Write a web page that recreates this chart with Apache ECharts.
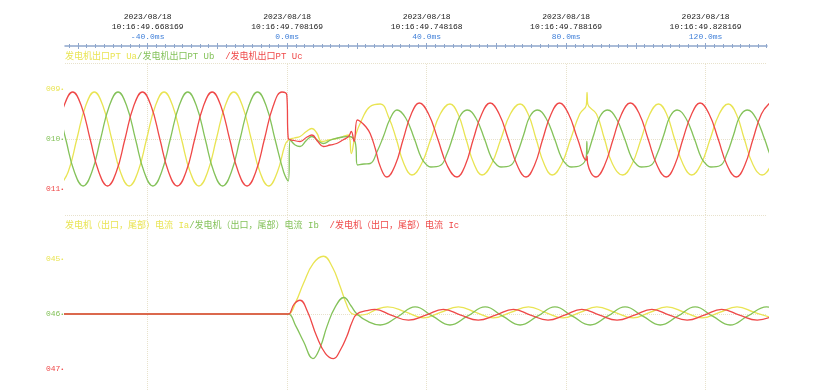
<!DOCTYPE html>
<html><head><meta charset="utf-8">
<script src="https://cdn.jsdelivr.net/npm/echarts@6/dist/echarts.min.js"></script>
<style>html,body{margin:0;padding:0;background:#fff}#c{width:837px;height:390px}</style>
</head><body><div id="c"></div>
<script>
// ---- time axis (ms) ----
const tickLabels = [-40, 0, 40, 80, 120];
const dateStr = '2023/08/18';
const stamps = ['10:16:49.668169', '10:16:49.708169', '10:16:49.748168', '10:16:49.788169', '10:16:49.828169'];
const X_MIN = -63.7, X_MAX = 137.6;

// ---- channel labels ----
const chanTop = ['009', '010', '011'];
const chanBot = ['045', '046', '047'];
const chanVals = [1, 0, -1];

// ---- legends ----
const legendTop = ['发电机出口PT Ua', '/发电机出口PT Ub', '  /发电机出口PT Uc'];
const legendBot = ['发电机（出口，尾部）电流 Ia', '/发电机（出口，尾部）电流 Ib', '  /发电机（出口，尾部）电流 Ic'];

// ---- voltages [ms, value] ----
const ua = [[-65.3,-0.94],[-62.8,-0.66],[-60.3,0],[-57.8,0.66],[-55.3,0.94],[-52.8,0.66],[-50.3,0],[-47.8,-0.66],[-45.3,-0.94],[-42.8,-0.66],[-40.3,0],[-37.8,0.66],[-35.3,0.94],[-32.8,0.66],[-30.3,0],[-27.8,-0.66],[-25.3,-0.94],[-22.8,-0.66],[-20.3,0],[-17.8,0.66],[-15.3,0.94],[-12.8,0.66],[-10.3,0],[-7.8,-0.66],[-5.3,-0.94],[-2.8,-0.66],[-0.6,-0.12],[0.4,-0.02],[2,0.02],[3.7,0.05],[5.5,0.15],[7.1,0.21],[8.5,0.12],[9.9,-0.05],[12,-0.02],[14.2,0.01],[16,0.05],[17.6,0.08],[18.4,-0.29],[19.5,0.05],[21.5,0.4],[23.8,0.65],[26.7,0.7],[29.2,0.42],[31.3,0],[33.4,-0.48],[35.8,-0.72],[38.5,-0.5],[41.2,0],[43.9,0.5],[46.7,0.7],[49,0.5],[51.3,0],[53.6,-0.5],[55.9,-0.72],[58.6,-0.5],[61.3,0],[64,0.5],[66.8,0.7],[69.1,0.5],[71.4,0],[73.7,-0.5],[76,-0.72],[78.7,-0.5],[81.3,0],[83.9,0.5],[85.8,0.68],[86.0,0.93],[86.2,0.7],[88.7,0.5],[91,0],[93.3,-0.5],[96.2,-0.72],[98.9,-0.5],[101.5,0],[104,0.5],[106.5,0.7],[108.8,0.5],[111.1,0],[113.5,-0.5],[116,-0.72],[118.7,-0.5],[121.3,0],[123.9,0.5],[126.5,0.7],[128.8,0.5],[131.1,0],[133.5,-0.5],[136.2,-0.72],[138.9,-0.5],[141.5,0]];
const ub = [[-68.5,0.94],[-66,0.66],[-63.5,0],[-61,-0.66],[-58.5,-0.94],[-56,-0.66],[-53.5,0],[-51,0.66],[-48.5,0.94],[-46,0.66],[-43.5,0],[-41,-0.66],[-38.5,-0.94],[-36,-0.66],[-33.5,0],[-31,0.66],[-28.5,0.94],[-26,0.66],[-23.5,0],[-21,-0.66],[-18.5,-0.94],[-16,-0.66],[-13.5,0],[-11,0.66],[-8.5,0.94],[-6,0.66],[-3.5,0],[-1,-0.66],[0.3,-0.84],[0.9,-0.02],[2.3,-0.12],[3.7,-0.15],[5.5,-0.03],[7.1,0.05],[8.8,-0.03],[10.4,-0.09],[12.5,-0.02],[14.5,0.02],[16,0.04],[17.6,0.05],[19.5,-0.06],[20.2,-0.52],[22,-0.5],[23.8,-0.49],[25.8,-0.25],[27.6,0.05],[29.5,0.4],[31.5,0.58],[34,0.42],[36.5,0],[38.5,-0.38],[40.2,-0.53],[41.2,-0.56],[43.9,-0.53],[45.8,-0.3],[47.7,0.08],[49.5,0.45],[51.6,0.58],[54.1,0.42],[56.6,0],[58.6,-0.38],[60.3,-0.53],[61.3,-0.56],[64,-0.53],[65.9,-0.3],[67.8,0.08],[69.6,0.45],[71.7,0.58],[74.2,0.42],[76.7,0],[78.7,-0.38],[80.4,-0.53],[81.4,-0.56],[84.1,-0.53],[85.8,-0.34],[85.95,-0.05],[86.1,-0.3],[87.9,0.08],[89.7,0.45],[91.8,0.58],[94.3,0.42],[96.8,0],[98.8,-0.38],[100.5,-0.53],[101.5,-0.56],[104.2,-0.53],[106.1,-0.3],[108,0.08],[109.8,0.45],[111.8,0.58],[114.3,0.42],[116.8,0],[118.8,-0.38],[120.5,-0.53],[121.5,-0.56],[124.2,-0.53],[126.1,-0.3],[128,0.08],[129.8,0.45],[131.9,0.58],[134.4,0.42],[136.9,0],[138.9,-0.38],[140.6,-0.53]];
const uc = [[-66.5,0],[-64,0.66],[-61.5,0.94],[-59,0.66],[-56.5,0],[-54,-0.66],[-51.5,-0.94],[-49,-0.66],[-46.5,0],[-44,0.66],[-41.5,0.94],[-39,0.66],[-36.5,0],[-34,-0.66],[-31.5,-0.94],[-29,-0.66],[-26.5,0],[-24,0.66],[-21.5,0.94],[-19,0.66],[-16.5,0],[-14,-0.66],[-11.5,-0.94],[-9,-0.66],[-6.5,0],[-4,0.66],[-1.5,0.94],[-0.1,0.88],[0.3,0.02],[2,-0.03],[3.7,-0.05],[5.5,0.03],[7.1,0.08],[8.8,-0.05],[10.4,-0.15],[12.3,-0.12],[14.2,-0.09],[16,-0.02],[17.6,0.05],[18.4,0.15],[19.2,-0.05],[20.1,0.38],[21,0.35],[22.5,0.25],[23.8,0.11],[25.3,-0.2],[26.7,-0.55],[28.6,-0.76],[30.95,-0.53],[33.3,0],[35.6,0.5],[37.9,0.72],[40.55,0.5],[43.2,0],[45.9,-0.53],[48.7,-0.76],[51.05,-0.53],[53.4,0],[55.8,0.5],[58.2,0.72],[60.8,0.5],[63.4,0],[66,-0.53],[68.5,-0.76],[70.9,-0.53],[73.3,0],[75.7,0.5],[78.1,0.72],[80.7,0.5],[83.3,0],[85.8,-0.42],[86,-0.34],[86.2,-0.5],[88.6,-0.76],[91,-0.53],[93.5,0],[95.9,0.5],[98.4,0.72],[101,0.5],[103.5,0],[106.1,-0.53],[108.7,-0.76],[111.1,-0.53],[113.5,0],[116,0.5],[118.4,0.72],[121,0.5],[123.6,0],[126.2,-0.53],[128.8,-0.76],[131.2,-0.53],[133.6,0],[136,0.5],[138.4,0.72]];

// ---- currents [ms, value] ----
const ia = [[-64,0],[-2,0],[-0.5,0],[0.4,0],[2.5,0.22],[4.7,0.56],[7.5,0.92],[10.4,1.05],[13,0.85],[15.2,0.5],[17,0.18],[18.5,0.01],[20.9,-0.02],[23,0.0],[25.5,0.08],[28.8,0.13],[33.9,0.04],[39.1,-0.07],[44,0.03],[49.1,0.13],[54.1,0.03],[59.1,-0.07],[64.1,0.03],[69.2,0.13],[74,0.03],[79.1,-0.07],[84,0.03],[88.8,0.13],[94,0.03],[99.2,-0.07],[104,0.03],[108.9,0.13],[114,0.03],[119,-0.07],[124,0.03],[129,0.13],[134,0.03],[139,-0.07]];
const ib = [[-64,0],[-2,0],[-0.5,0],[0.4,0],[2.5,-0.22],[4.7,-0.5],[7.4,-0.81],[9.5,-0.6],[11.4,-0.23],[13.8,0.13],[16.3,0.3],[18.3,0.15],[20,0.0],[23.3,-0.14],[26.7,-0.2],[31.7,-0.05],[36.7,0.13],[41.7,-0.04],[46.7,-0.2],[51.7,-0.04],[56.8,0.13],[61.8,-0.04],[66.8,-0.2],[71.8,-0.04],[76.8,0.13],[81.8,-0.04],[86.9,-0.2],[91.9,-0.04],[96.9,0.13],[102,-0.04],[107,-0.2],[112,-0.04],[117,0.13],[122,-0.04],[127,-0.2],[132,-0.04],[137.5,0.13],[142,-0.04]];
const ic = [[-64,0],[-2,0],[-0.5,0],[0.4,0],[2,0.18],[3.7,0.25],[5.8,0.05],[8.5,-0.41],[11,-0.72],[13.3,-0.81],[15.3,-0.65],[17.1,-0.41],[18.6,-0.15],[20,0.0],[22.8,0.06],[25.2,0.085],[29.8,-0.02],[34.8,-0.11],[39.8,-0.02],[44.8,0.085],[49.8,-0.02],[54.8,-0.11],[59.8,-0.02],[64.9,0.085],[69.8,-0.02],[74.8,-0.11],[79.6,-0.02],[84.5,0.085],[89.6,-0.02],[94.6,-0.11],[99.6,-0.02],[104.6,0.085],[109.6,-0.02],[114.7,-0.11],[119.6,-0.02],[124.6,0.085],[129.7,-0.02],[134.8,-0.11],[139.8,-0.02]];

// ---- styling ----
const YEL = '#e9e453', GRN = '#84c25a', RED = '#ef4848';
const COLS = [YEL, GRN, RED];
const GRIDC = '#e8e2cc';
const AXC = '#8ea6cc';
const MONO = "'Liberation Mono','DejaVu Sans Mono','Noto Sans CJK SC',monospace";
const TOP_MAX = 1.52, BOT_MAX = 1.8, BOT_MIN = -1.382;

const minorTicks = []; for (let t = -62.5; t <= 137.6; t += 2.5) minorTicks.push(+t.toFixed(1));
const majorTicks = []; for (let t = -60; t <= 137.6; t += 20) majorTicks.push(t);

const chart = echarts.init(document.getElementById('c'), null, {renderer: 'canvas'});

function legendTitle(texts, top) {
  return {
    left: 65, top: top, padding: 0,
    text: texts.map((s, i) => '{s' + i + '|' + s + '}').join(''),
    textStyle: {
      fontSize: 9, fontFamily: MONO, fontWeight: 'normal',
      rich: {
        s0: {color: YEL, fontSize: 9, fontFamily: MONO},
        s1: {color: GRN, fontSize: 9, fontFamily: MONO},
        s2: {color: RED, fontSize: 9, fontFamily: MONO}
      }
    }
  };
}

const yRich = {};
COLS.forEach((c, i) => {
  yRich['c' + i] = {color: c, fontSize: 8, fontFamily: MONO};
  yRich['d' + i] = {color: c, fontSize: 6, fontFamily: MONO};
});
function yLabel(names) {
  return {
    show: true, customValues: chanVals, margin: 1,
    formatter: v => { const i = chanVals.indexOf(v); return i < 0 ? '' : '{c' + i + '|' + names[i] + '}{d' + i + '|•}'; },
    rich: yRich
  };
}

function xAx(grid, extra) {
  return Object.assign({
    gridIndex: grid, type: 'value', min: X_MIN, max: X_MAX, position: 'top', offset: 17,
    axisLine: {show: false, onZero: false},
    axisTick: {show: false},
    axisLabel: {show: false},
    splitLine: {show: false}
  }, extra);
}

function wave(data, color, xi, yi, z) {
  return {
    type: 'line', data: data, xAxisIndex: xi, yAxisIndex: yi, showSymbol: false, symbol: 'none',
    smooth: 0.45, lineStyle: {color: color, width: 1.3}, itemStyle: {color: color}, z: z,
    silent: true, animation: false, clip: true
  };
}

function gridLines(xi, yi, topVal) {
  return {
    type: 'line', xAxisIndex: xi, yAxisIndex: yi, data: [[0, 0]], symbol: 'none',
    lineStyle: {width: 0, opacity: 0}, z: 1, silent: true, animation: false,
    markLine: {
      z: 1, silent: true, symbol: ['none', 'none'], label: {show: false}, animation: false,
      lineStyle: {type: 'dotted', color: GRIDC, width: 1},
      emphasis: {disabled: true},
      data: tickLabels.map(t => ({xAxis: t})).concat([{yAxis: 0}, {yAxis: topVal}])
    }
  };
}

chart.setOption({
  animation: false,
  backgroundColor: '#ffffff',
  title: [legendTitle(legendTop, 52), legendTitle(legendBot, 221)],
  grid: [
    {left: 65, right: 70, top: 63, height: 152},
    {left: 65, right: 70, top: 215, height: 175}
  ],
  xAxis: [
    xAx(0, {
      axisLine: {show: true, onZero: false, lineStyle: {color: AXC, width: 1.5}},
      axisTick: {show: true, customValues: majorTicks, length: 3, lineStyle: {color: AXC}},
      axisLabel: {
        show: true, customValues: tickLabels, margin: 4,
        formatter: v => {
          const i = tickLabels.indexOf(v);
          if (i < 0) return '';
          return '{t|' + dateStr + '}\n{t|' + stamps[i] + '}\n{m|' + v.toFixed(1) + 'ms}';
        },
        rich: {
          t: {fontFamily: MONO, fontSize: 8, color: '#222', lineHeight: 10},
          m: {fontFamily: MONO, fontSize: 8, color: '#3f7fd8', lineHeight: 10}
        }
      }
    }),
    xAx(0, {axisTick: {show: true, customValues: minorTicks, length: 2, lineStyle: {color: AXC}}}),
    xAx(0, {axisTick: {show: true, inside: true, customValues: minorTicks, length: 2, lineStyle: {color: AXC}}}),
    xAx(0, {axisTick: {show: true, inside: true, customValues: majorTicks, length: 3, lineStyle: {color: AXC}}}),
    xAx(1, {show: false, offset: 0})
  ],
  yAxis: [
    {gridIndex: 0, type: 'value', min: -TOP_MAX, max: TOP_MAX, axisLine: {show: false}, axisTick: {show: false},
     splitLine: {show: false}, axisLabel: yLabel(chanTop)},
    {gridIndex: 1, type: 'value', min: BOT_MIN, max: BOT_MAX, axisLine: {show: false}, axisTick: {show: false},
     splitLine: {show: false}, axisLabel: yLabel(chanBot)}
  ],
  series: [
    gridLines(0, 0, TOP_MAX),
    gridLines(4, 1, BOT_MAX),
    wave(ua, YEL, 0, 0, 2),
    wave(ub, GRN, 0, 0, 3),
    wave(uc, RED, 0, 0, 4),
    wave(ia, YEL, 4, 1, 2),
    wave(ib, GRN, 4, 1, 3),
    wave(ic, RED, 4, 1, 4)
  ]
});
</script>
</body></html>
